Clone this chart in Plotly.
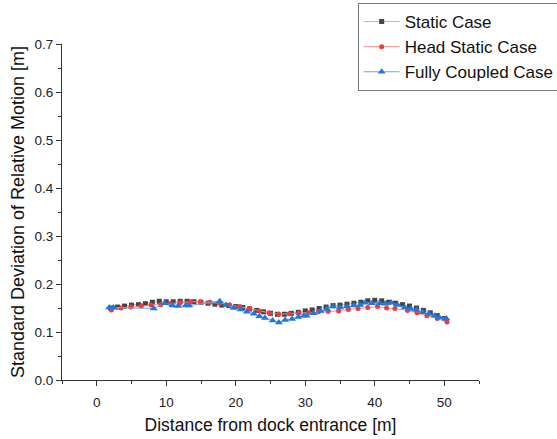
import plotly.graph_objects as go

static_x = [2, 3, 4, 5, 6, 7, 8, 9, 10, 11, 12, 13, 14, 15, 16, 17, 18, 19, 20, 21, 22, 23, 24, 25,
            26, 27, 28, 29, 30, 31, 32, 33, 34, 35, 36, 37, 38, 39, 40, 41, 42, 43, 44, 45, 46, 47,
            48, 49, 50]
static_y = [0.150, 0.152, 0.154, 0.156, 0.157, 0.159, 0.162, 0.164, 0.163, 0.163, 0.164, 0.164,
            0.163, 0.162, 0.160, 0.158, 0.156, 0.155, 0.153, 0.151, 0.148, 0.145, 0.142, 0.139,
            0.137, 0.137, 0.139, 0.141, 0.144, 0.146, 0.149, 0.152, 0.155, 0.156, 0.158, 0.160,
            0.162, 0.165, 0.166, 0.165, 0.162, 0.160, 0.157, 0.154, 0.150, 0.145, 0.140, 0.134,
            0.128]

head_x = [2.1, 3.5, 4.9, 6.4, 7.8, 9.2, 10.6, 12.0, 13.5, 14.9, 16.3, 17.7, 19.1, 20.6, 22.0,
          23.4, 24.8, 26.2, 27.7, 29.1, 30.5, 31.9, 33.3, 34.8, 36.2, 37.6, 39.0, 40.4, 41.7,
          42.9, 44.7, 46.1, 47.5, 49.0, 50.4]
head_y = [0.146, 0.150, 0.152, 0.154, 0.156, 0.157, 0.159, 0.161, 0.163, 0.163, 0.162, 0.160,
          0.157, 0.153, 0.149, 0.144, 0.140, 0.137, 0.138, 0.139, 0.140, 0.142, 0.143, 0.144,
          0.147, 0.149, 0.151, 0.153, 0.150, 0.149, 0.145, 0.140, 0.134, 0.128, 0.121]

full_x = [1.8, 2.4, 8.2, 9.8, 10.9, 11.7, 12.8, 13.3, 17.7, 18.6, 19.7, 20.7, 21.6, 22.6, 23.4,
          24.2, 25.3, 26.2, 27.1, 28.1, 29.0, 29.8, 30.2, 31.2, 32.2, 33.1, 34.0, 35.0, 36.0,
          37.0, 37.9, 38.6, 39.6, 40.7, 41.5, 42.4, 43.3, 44.3, 45.2, 46.0, 46.9, 47.8, 48.6,
          49.3, 50.3]
full_y = [0.151, 0.151, 0.149, 0.160, 0.155, 0.154, 0.155, 0.155, 0.164, 0.156, 0.150, 0.147,
          0.142, 0.138, 0.133, 0.129, 0.124, 0.120, 0.125, 0.127, 0.131, 0.134, 0.134, 0.139,
          0.144, 0.148, 0.153, 0.151, 0.153, 0.155, 0.156, 0.161, 0.160, 0.160, 0.159, 0.161,
          0.156, 0.151, 0.148, 0.146, 0.141, 0.138, 0.134, 0.130, 0.128]

font = "Arial, Liberation Sans, sans-serif"

fig = go.Figure()
fig.add_trace(go.Scatter(x=static_x, y=static_y, mode="lines+markers", name="Static Case",
                         line=dict(color="#b8b8b8", width=1),
                         marker=dict(symbol="square", size=5, color="#454545")))
fig.add_trace(go.Scatter(x=head_x, y=head_y, mode="lines+markers", name="Head Static Case",
                         line=dict(color="#ff8f8f", width=1),
                         marker=dict(symbol="circle", size=5, color="#ee3b3b")))
fig.add_trace(go.Scatter(x=full_x, y=full_y, mode="lines+markers", name="Fully Coupled Case",
                         line=dict(color="#6ea8ee", width=1),
                         marker=dict(symbol="triangle-up", size=7, color="#2277dd")))

axis_common = dict(showline=True, linecolor="#333333", linewidth=1, showgrid=False,
                   zeroline=False, ticks="outside", ticklen=5, tickcolor="#333333",
                   tickfont=dict(family=font, size=13.5, color="#222222"))

fig.update_xaxes(range=[-5, 55], tick0=0, dtick=10, ticklabelstandoff=5,
                 minor=dict(ticks="outside", dtick=5, tick0=0, ticklen=3, tickcolor="#333333"),
                 title=dict(text="Distance from dock entrance [m]", standoff=9,
                            font=dict(family=font, size=17.5, color="#111111")),
                 **axis_common)
fig.update_yaxes(range=[0, 0.7], tick0=0, dtick=0.1, tickformat=".1f",
                 minor=dict(ticks="outside", dtick=0.05, tick0=0, ticklen=3, tickcolor="#333333"),
                 title=dict(text="Standard Deviation of Relative Motion [m]", standoff=5,
                            font=dict(family=font, size=18, color="#111111")),
                 **axis_common)

fig.update_layout(
    width=557, height=439,
    margin=dict(l=62, r=78, t=44, b=59, autoexpand=False),
    paper_bgcolor="white", plot_bgcolor="white",
    showlegend=True,
    legend=dict(x=0.709, y=1.122, xanchor="left", yanchor="top",
                bordercolor="#777777", borderwidth=1, bgcolor="white",
                font=dict(family=font, size=17, color="#111111"),
                tracegroupgap=0, itemwidth=36),
)

fig.write_html("out.html")
